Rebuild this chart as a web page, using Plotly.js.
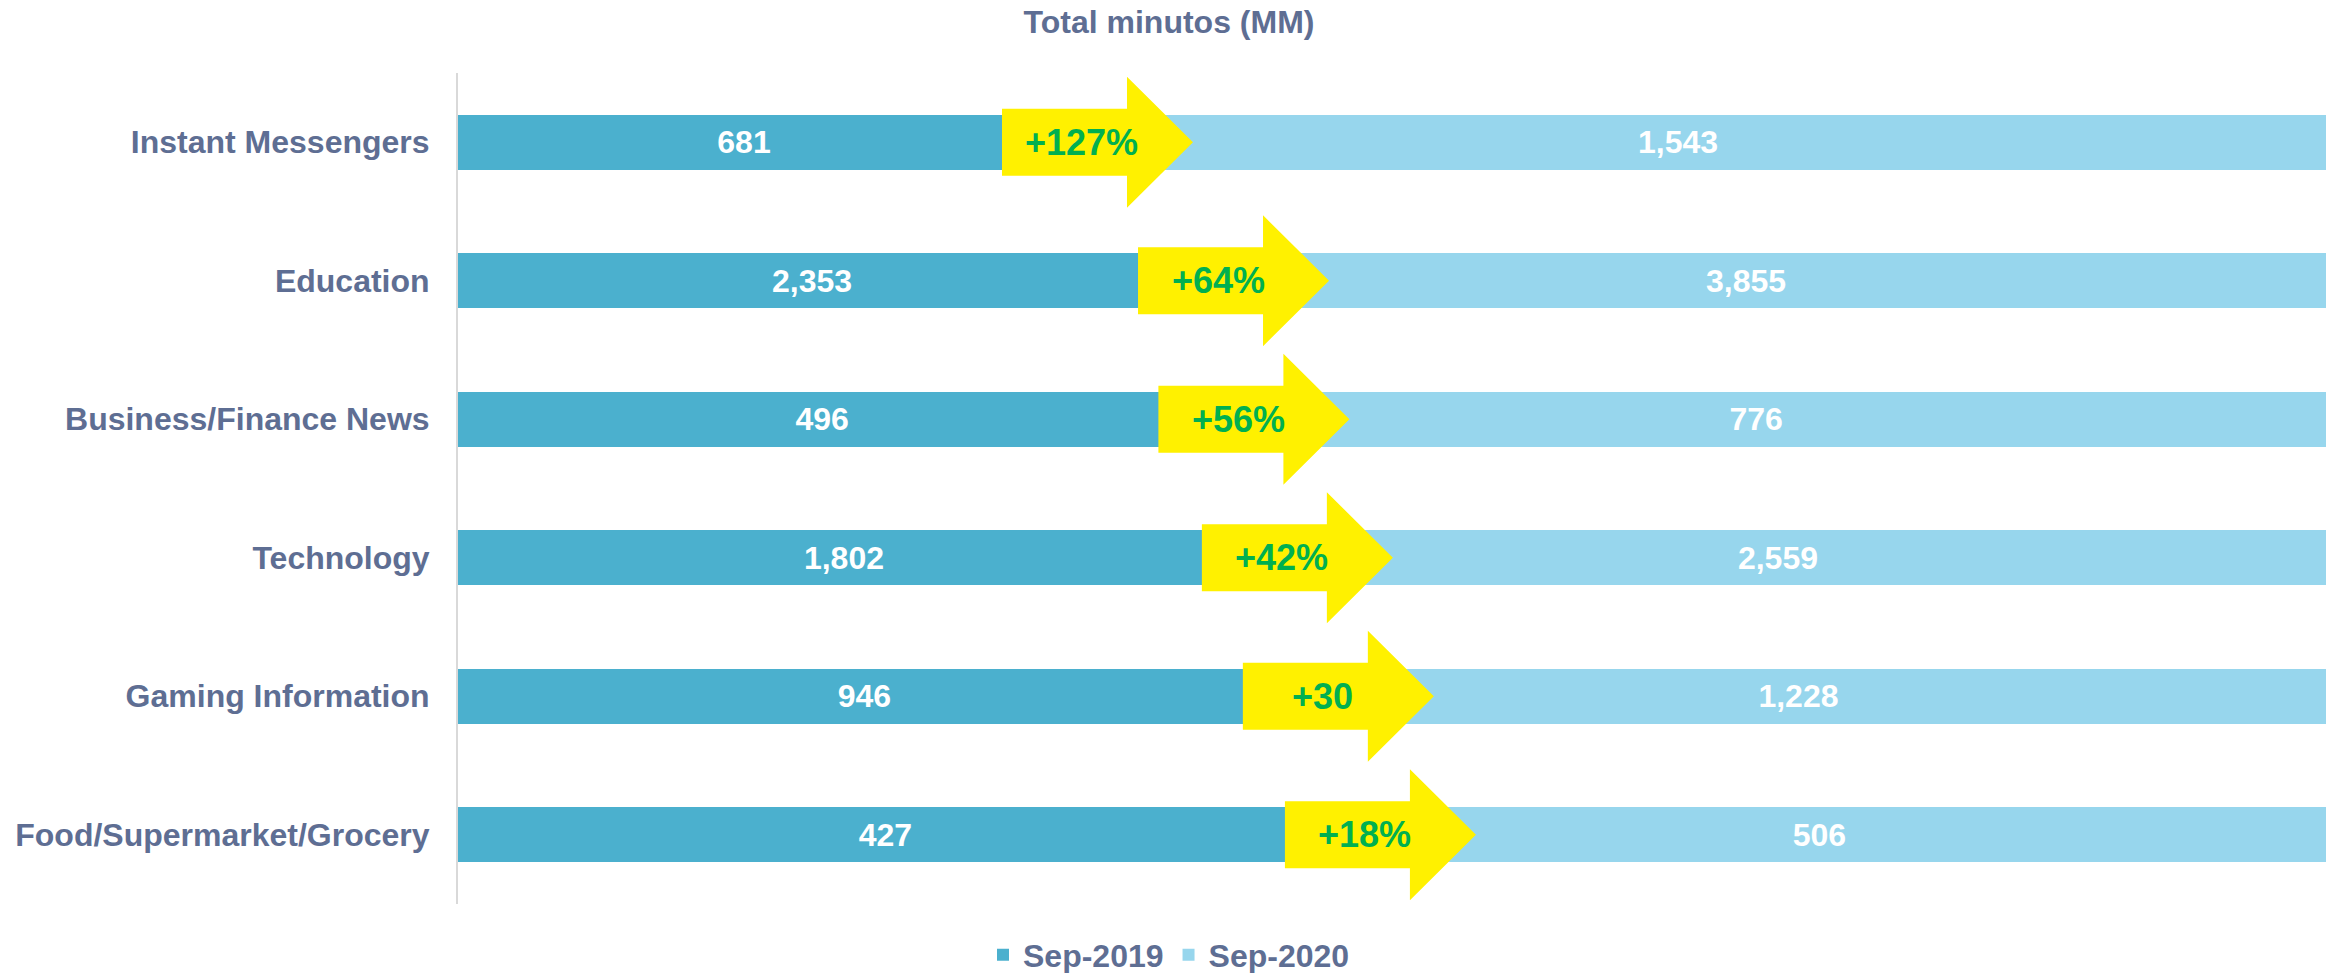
<!DOCTYPE html>
<html>
<head>
<meta charset="utf-8">
<script src="https://cdn.plot.ly/plotly-3.0.1.min.js"></script>
<style>
  html, body { margin: 0; padding: 0; background: #fff; }
  #myDiv { width: 2338px; height: 973px; }
</style>
</head>
<body>
<div id="myDiv"></div>
<script>
var categories = [
  "Instant Messengers",
  "Education",
  "Business/Finance News",
  "Technology",
  "Gaming Information",
  "Food/Supermarket/Grocery",
];
var sep2019 = [681, 2353, 496, 1802, 946, 427];
var sep2020 = [1543, 3855, 776, 2559, 1228, 506];
var growth = ["+127%", "+64%", "+56%", "+42%", "+30", "+18%"];

var slate = "#5E6E93";
var font = "Liberation Sans, Arial, sans-serif";

function fmt(v) {
  return v.toLocaleString("en-US");
}

var old = {
  y: categories,
  x: sep2019,
  name: "Sep-2019",
  orientation: "h",
  type: "bar",
  text: sep2019.map(fmt),
  textposition: "inside",
  insidetextanchor: "middle",
  textfont: { color: "#ffffff", size: 32, family: font, weight: "bold" },
  marker: { color: "#4BB0CE" },
  hoverinfo: "none",
};

var now = {
  y: categories,
  x: sep2020,
  name: "Sep-2020",
  orientation: "h",
  type: "bar",
  text: sep2020.map(fmt),
  textposition: "inside",
  insidetextanchor: "middle",
  textfont: { color: "#ffffff", size: 32, family: font, weight: "bold" },
  marker: { color: "#97D6ED" },
  hoverinfo: "none",
};

// yellow arrows sit on the border between the two segments
var shapes = [];
var notes = [];
categories.forEach(function (c, i) {
  var split = (sep2019[i] / (sep2019[i] + sep2020[i])) * 100;
  shapes.push({
    type: "path",
    xref: "x",
    yref: "y",
    xsizemode: "pixel",
    ysizemode: "pixel",
    xanchor: split,
    yanchor: i,
    path: "M -28 -33.5 L 97 -33.5 L 97 -65.5 L 163 0 L 97 65.5 L 97 33.5 L -28 33.5 Z",
    fillcolor: "#FFF100",
    line: { width: 0 },
  });
  notes.push({
    x: split,
    y: c,
    xref: "x",
    yref: "y",
    xshift: 52,
    text: growth[i],
    showarrow: false,
    font: { color: "#00B050", size: 36, family: font, weight: "bold" },
  });
});

var data = [old, now];

var layout = {
  width: 2338,
  height: 973,
  barmode: "stack",
  barnorm: "percent",
  bargap: 0.6,
  paper_bgcolor: "#ffffff",
  plot_bgcolor: "#ffffff",
  margin: { l: 458, r: 12, t: 73, b: 69 },
  font: { family: font, size: 32, color: slate, weight: "bold" },
  title: {
    text: "Total minutos (MM)",
    xref: "container",
    x: 0.5,
    yref: "container",
    y: 1 - 22 / 973,
    yanchor: "middle",
    font: { size: 32, color: slate, family: font, weight: "bold" },
  },
  xaxis: {
    range: [0, 100],
    visible: false,
    showgrid: false,
    zeroline: false,
    fixedrange: true,
  },
  yaxis: {
    type: "category",
    autorange: "reversed",
    showline: true,
    linecolor: "#D9D9D9",
    linewidth: 2,
    showgrid: false,
    ticks: "",
    ticklabelstandoff: 20,
    tickfont: { size: 32, color: slate, family: font, weight: "bold" },
    fixedrange: true,
  },
  legend: {
    orientation: "h",
    xref: "container",
    x: 0.5,
    xanchor: "center",
    yref: "container",
    y: 1 - 955 / 973,
    yanchor: "middle",
    traceorder: "normal",
    font: { size: 32, color: slate, family: font, weight: "bold" },
    itemwidth: 30,
  },
  shapes: shapes,
  annotations: notes,
  showlegend: true,
};

const config = {
  displayModeBar: false,
  staticPlot: true,
};

Plotly.newPlot("myDiv", data, layout, config);
</script>
</body>
</html>
